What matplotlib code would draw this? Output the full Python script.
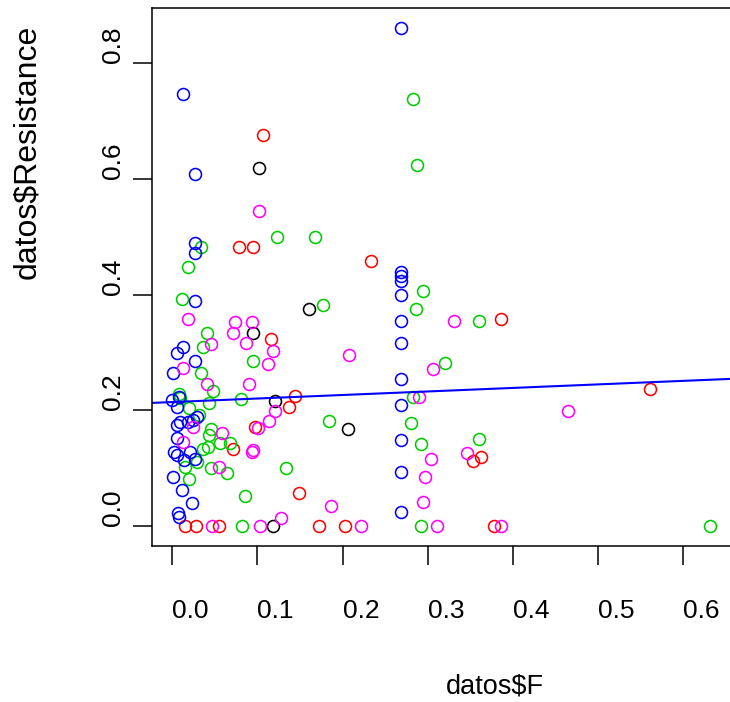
import numpy as np
import matplotlib
matplotlib.use('Agg')
import matplotlib.pyplot as plt

plt.rcParams['font.family'] = ['Liberation Sans', 'DejaVu Sans']

# datos$F / datos$Resistance, split by group colour
f_black = [0.102, 0.095, 0.161, 0.1206, 0.2065, 0.1186]
r_black = [0.620, 0.334, 0.376, 0.217, 0.168, 0.0]

f_red = [0.107, 0.0786, 0.095, 0.116, 0.144, 0.137, 0.097, 0.0716, 0.149, 0.2335,
         0.386, 0.3626, 0.353, 0.562, 0.0147, 0.0276, 0.055, 0.1727, 0.203, 0.3786]
r_red = [0.676, 0.482, 0.482, 0.324, 0.224, 0.205, 0.172, 0.133, 0.0576, 0.4585,
         0.358, 0.120, 0.113, 0.237, 0.0, 0.0, 0.0, 0.0, 0.0, 0.0]

f_green = [0.034, 0.123, 0.168, 0.0178, 0.0108, 0.177, 0.041, 0.036, 0.095, 0.034,
           0.048, 0.081, 0.008, 0.009, 0.043, 0.020, 0.184, 0.134, 0.0853, 0.0316,
           0.0453, 0.043, 0.056, 0.0676, 0.036, 0.042, 0.0285, 0.0147, 0.0453, 0.0645,
           0.0198, 0.283, 0.2876, 0.295, 0.287, 0.3606, 0.3206, 0.2826, 0.280, 0.292,
           0.3606, 0.0814, 0.292, 0.632]
r_green = [0.482, 0.4995, 0.4995, 0.448, 0.393, 0.383, 0.334, 0.310, 0.2855, 0.265,
           0.234, 0.220, 0.228, 0.222, 0.212, 0.204, 0.182, 0.0998, 0.052, 0.192,
           0.167, 0.157, 0.143, 0.143, 0.134, 0.137, 0.111, 0.1026, 0.0998, 0.091,
           0.081, 0.738, 0.624, 0.4066, 0.3754, 0.3547, 0.2826, 0.2227, 0.178, 0.141,
           0.1505, 0.0, 0.0, 0.0]

f_blue = [0.0127, 0.027, 0.027, 0.027, 0.027, 0.0127, 0.0056, 0.027, 0.001, 0.000,
          0.008, 0.005, 0.0285, 0.0088, 0.005, 0.0186, 0.024, 0.005, 0.0018, 0.005,
          0.0206, 0.0265, 0.013, 0.001, 0.0108, 0.0226, 0.006, 0.008,
          0.2688, 0.2688, 0.2688, 0.2688, 0.2688, 0.2688, 0.2688, 0.2688, 0.2688,
          0.2688, 0.2688, 0.2688]
r_blue = [0.748, 0.609, 0.490, 0.472, 0.389, 0.310, 0.300, 0.285, 0.265, 0.218,
          0.223, 0.206, 0.189, 0.180, 0.175, 0.180, 0.184, 0.153, 0.1286, 0.123,
          0.1286, 0.1154, 0.114, 0.0853, 0.0623, 0.040, 0.023, 0.016,
          0.862, 0.440, 0.432, 0.423, 0.400, 0.355, 0.317, 0.254, 0.209,
          0.148, 0.093, 0.024]

f_magenta = [0.102, 0.0178, 0.074, 0.093, 0.0716, 0.086, 0.0456, 0.1186, 0.1127, 0.0127,
             0.041, 0.090, 0.1206, 0.1135, 0.101, 0.093, 0.095, 0.186, 0.128, 0.0245,
             0.058, 0.0127, 0.055, 0.2076, 0.3316, 0.3065, 0.290, 0.4657, 0.346, 0.3037,
             0.297, 0.2943, 0.0462, 0.103, 0.2214, 0.311, 0.3865]
r_magenta = [0.544, 0.358, 0.352, 0.352, 0.334, 0.317, 0.314, 0.303, 0.280, 0.273,
             0.245, 0.245, 0.199, 0.182, 0.169, 0.1286, 0.1315, 0.0346, 0.0133, 0.172,
             0.161, 0.146, 0.1026, 0.296, 0.3547, 0.2716, 0.2237, 0.1995, 0.127, 0.1165,
             0.0853, 0.041, 0.0, 0.0, 0.0, 0.0, 0.0]

# abline(lm(...)) coefficients
fit_intercept = 0.2144
fit_slope = 0.061

x_ticks = [0.0, 0.1, 0.2, 0.3, 0.4, 0.5, 0.6]
y_ticks = [0.0, 0.2, 0.4, 0.6, 0.8]

W, H = 730, 702
fig = plt.figure(figsize=(W / 100, H / 100), dpi=100)
ax = fig.add_axes([152 / W, 156 / H, 579 / W, 538 / H])

groups = [(f_black, r_black, 'black'),
          (f_red, r_red, 'red'),
          (f_green, r_green, '#00CD00'),
          (f_blue, r_blue, 'blue'),
          (f_magenta, r_magenta, 'magenta')]
for fx, ry, col in groups:
    ax.plot(fx, ry, linestyle='none', marker='o', ms=8.6, mfc='none',
            mec=col, mew=1.15)

ax.axline((0, fit_intercept), slope=fit_slope, color='blue', lw=1.5)

ax.set_xlim(-0.0241, 0.657)
ax.set_ylim(-0.0346, 0.896)
ax.set_xticks(x_ticks)
ax.set_xticklabels([f'{t:.1f}' for t in x_ticks], ha='left')
ax.set_yticks(y_ticks)
ax.set_yticklabels([f'{t:.1f}' for t in y_ticks], rotation=90, va='bottom')
ax.tick_params(length=13.5, width=1.1, labelsize=19, direction='out')
ax.tick_params(axis='x', pad=25)
ax.tick_params(axis='y', pad=6)
for s in ax.spines.values():
    s.set_linewidth(1.1)

# axis titles start at the middle of each side
fig.text(446 / W, 1 - 686 / H, 'datos$F', ha='left', va='center', fontsize=19.5)
fig.text(27 / W, 1 - 279 / H, 'datos$Resistance', ha='center', va='bottom',
         rotation=90, fontsize=23)

fig.savefig('out.png', dpi=100)
